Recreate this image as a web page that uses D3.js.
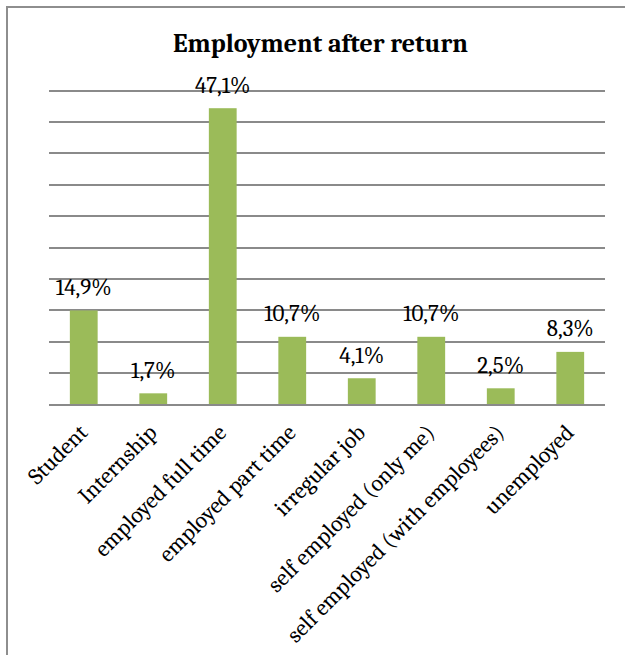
<!DOCTYPE html>
<html>
<head>
<meta charset="utf-8">
<script src="https://cdn.jsdelivr.net/npm/d3@7"></script>
<style>
  html, body { margin: 0; padding: 0; background: #fff; }
  svg { display: block; }
</style>
</head>
<body>
<svg id="chart" width="625" height="655"></svg>
<script>
// Survey results: employment status after return (share of respondents, %)
const categories = [
  "Student",
  "Internship",
  "employed full time",
  "employed part time",
  "irregular job",
  "self employed (only me)",
  "self employed (with employees)",
  "unemployed"
];
const shares = [14.9, 1.7, 47.1, 10.7, 4.1, 10.7, 2.5, 8.3];
const yTicks = [0, 5, 10, 15, 20, 25, 30, 35, 40, 45, 50];
const chartTitle = "Employment after return";

const data = categories.map((c, i) => ({ category: c, value: shares[i] }));

const W = 625, H = 655;
const plot = { left: 49, right: 605, top: 90, bottom: 404 };
const serif = "Cambria, 'Liberation Serif', 'DejaVu Serif', serif";

const svg = d3.select("#chart");

// outer chart frame (continues past the right and bottom edges)
svg.append("rect")
  .attr("x", 7).attr("y", 7)
  .attr("width", W + 20).attr("height", H + 20)
  .attr("fill", "#fff")
  .attr("stroke", "#8e8e8e")
  .attr("stroke-width", 2);

const x = d3.scaleBand()
  .domain(categories)
  .range([plot.left, plot.right])
  .paddingInner(0.6)
  .paddingOuter(0.3);

const y = d3.scaleLinear()
  .domain([0, 50])
  .range([plot.bottom, plot.top]);

// horizontal gridlines
const yAxis = d3.axisLeft(y)
  .tickValues(yTicks)
  .tickSize(-(plot.right - plot.left))
  .tickFormat("");
const gy = svg.append("g")
  .attr("transform", `translate(${plot.left},0)`)
  .call(yAxis);
gy.select(".domain").remove();
gy.selectAll(".tick line")
  .attr("stroke", "#8a8a8a")
  .attr("stroke-width", 2)
  .attr("shape-rendering", "crispEdges");

// bars
svg.append("g")
  .selectAll("rect")
  .data(data)
  .join("rect")
  .attr("x", d => x(d.category))
  .attr("width", x.bandwidth())
  .attr("y", d => y(d.value))
  .attr("height", d => y(0) - y(d.value))
  .attr("fill", "#9bbb59");

// value labels, decimal comma
const locale = d3.formatLocale({ decimal: ",", thousands: ".", grouping: [3], currency: ["", "€"] });
const fmt = locale.format(".1f");

svg.append("g")
  .selectAll("text")
  .data(data)
  .join("text")
  .attr("x", d => x(d.category) + x.bandwidth() / 2)
  .attr("y", d => y(d.value) - 15.5)
  .attr("text-anchor", "middle")
  .attr("font-family", serif)
  .attr("font-size", 23)
  .attr("fill", "#000")
  .text(d => fmt(d.value) + "%");

// category labels, rotated 45°
const xAxis = d3.axisBottom(x).tickSize(0).tickPadding(0);
const gx = svg.append("g")
  .attr("transform", `translate(0,${plot.bottom})`)
  .call(xAxis);
gx.select(".domain").remove();
gx.selectAll(".tick text")
  .attr("font-family", serif)
  .attr("font-size", 23)
  .attr("fill", "#000")
  .attr("text-anchor", "end")
  .attr("dy", 0)
  .attr("y", 0)
  .attr("transform", "translate(5,30) rotate(-45)");

// title
svg.append("text")
  .attr("x", 320.5)
  .attr("y", 52)
  .attr("text-anchor", "middle")
  .attr("font-family", serif)
  .attr("font-weight", "bold")
  .attr("font-size", 26)
  .attr("fill", "#000")
  .text(chartTitle);
</script>
</body>
</html>
